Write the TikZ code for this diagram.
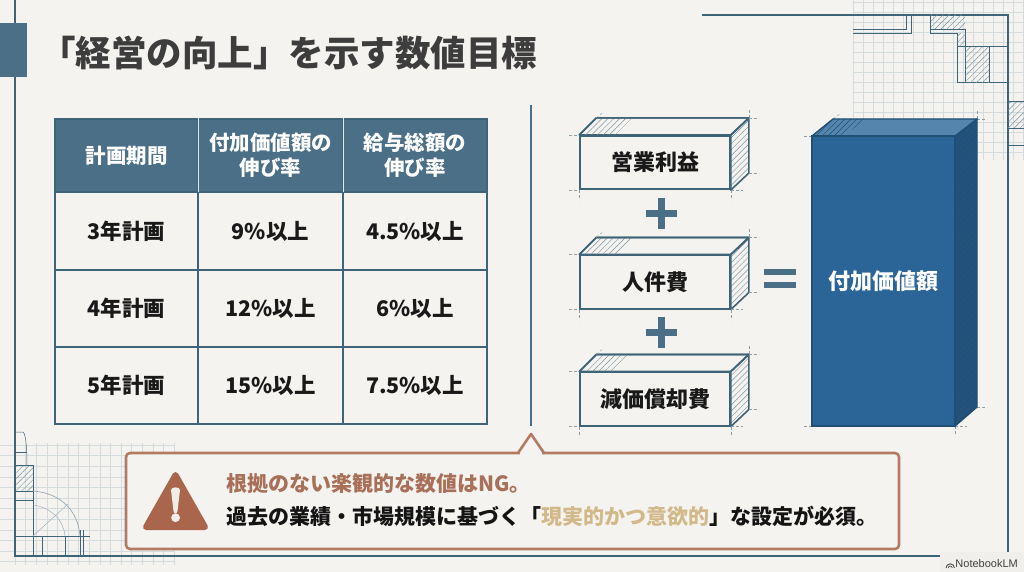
\documentclass[tikz,border=0pt]{standalone}
\usepackage{fontspec}
\setmainfont{Noto Sans CJK JP}
\newfontfamily\latinmark{Liberation Sans}
\usetikzlibrary{patterns.meta,calc}
\definecolor{paper}{HTML}{F4F3EF}
\definecolor{ink}{HTML}{4A6F87}
\definecolor{edge}{HTML}{3F6377}
\definecolor{gridc}{HTML}{D3DBDD}
\definecolor{titlec}{HTML}{3D3D3D}
\definecolor{blueF}{HTML}{2B6496}
\definecolor{blueT}{HTML}{5585AD}
\definecolor{blueS}{HTML}{23537C}
\definecolor{blueE}{HTML}{1F4F73}
\definecolor{rust}{HTML}{A9664C}
\definecolor{rustl}{HTML}{A87058}
\definecolor{gold}{HTML}{D2B98A}
\definecolor{tick}{HTML}{8E9EA6}
\newcommand{\fs}[1]{\fontsize{#1}{25}\selectfont}
\tikzset{
  gridline/.style={gridc,line width=.6pt},
  frameline/.style={edge,line width=1.2pt},
  plan/.style={edge,line width=1pt},
  hatchfill/.style={pattern={Lines[angle=45,distance=4.2pt,line width=.45pt]},pattern color=#1},
  headcell/.style={fill=ink,draw=edge,line width=1.4pt,minimum width=#1,text=white,minimum height=73pt,inner sep=0pt,align=center,font=\fs{20.5}\bfseries},
  bodycell/.style={fill=paper,draw=edge,line width=1.4pt,minimum width=#1,minimum height=77pt,inner sep=0pt,align=center,font=\fs{21.5}\bfseries,text=black!90},
  frontbox/.style={fill=paper,draw=edge,line width=1.6pt,minimum width=150pt,minimum height=53.5pt,inner sep=0pt,font=\fs{22}\bfseries,text=black!90},
  boxface/.style={fill=paper,draw=edge,line width=1.6pt,line join=round},
  dimtick/.style={tick,line width=.4pt,densely dashed},
  opsign/.style={fill=ink,draw=none,inner sep=0pt},
}
% dimension marks around a box front named #1
\newcommand{\dimmarks}[1]{%
  \draw[dimtick] ($(#1.north west)+(-10,0)$) -- (#1.north west);
  \draw[dimtick] ($(#1.south west)+(-10,0)$) -- (#1.south west);
  \draw[dimtick] (#1.south west) -- ++(0,10);
  \draw[dimtick] ($(#1.south east)+(0,-0)$) -- ++(0,10);
  \draw[dimtick] (#1.south east) -- ++(12,0);
  \draw[dimtick] ($(#1.north east)+(18,-17)$) -- ++(10,0);
  \draw[dimtick] ($(#1.north east)+(18,-17)$) -- ++(0,-8);
  \draw[dimtick] ($(#1.south east)+(18,-17)$) -- ++(10,0);
  \draw[dimtick] ($(#1.north west)+(17,-17)$) -- ++(6,-5);
}
\newcommand{\solid}[1]{%
  \draw[boxface,hatchfill=edge!70] (#1.north east) -- ++(18,-17) -- ($(#1.south east)+(18,-17)$) -- (#1.south east) -- cycle;
  \draw[boxface] (#1.north west) -- ++(17,-17) -- ($(#1.north east)+(18,-17)$) -- (#1.north east) -- cycle;
  \fill[hatchfill=edge!70] (#1.north west) -- ++(17,-17) -- ++(36,0) -- ++(-17,17) -- cycle;
  \draw[edge,line width=1.6pt,line join=round] (#1.north west) -- ++(17,-17) -- ($(#1.north east)+(18,-17)$) -- (#1.north east);
  \dimmarks{#1}
}
\begin{document}
\begin{tikzpicture}[x=1pt,y=-1pt]
\useasboundingbox (0,0) rectangle (1024,572);
\fill[paper] (0,0) rectangle (1024,572);
% --- grids
\foreach \x in {853,863,...,1023} \draw[gridline] (\x,0) -- (\x,160);
\foreach \y in {2,12,...,160} \draw[gridline] (853,\y) -- (1024,\y);
\foreach \x in {15,25.6,...,175} \draw[gridline] (\x,443) -- (\x,565);
\foreach \y in {445,455.6,...,572} \draw[gridline] (0,\y) -- (175,\y);
% --- frame
\draw[frameline] (15,0) -- (15,556) -- (945,556);
\draw[frameline,line width=1.6pt] (702,15) -- (1008,15) -- (1008,556);
% --- top-right plan
\draw[plan] (906,15) -- (906,30) -- (853,30);
\draw[plan] (911,15) -- (911,34) -- (853,34);
\fill[hatchfill=edge!70] (930,15) rectangle (965,30);
\draw[plan] (930,15) -- (930,34) -- (957,34) -- (957,83) -- (1008,83);
\draw[plan] (930,30) -- (965,30) -- (965,83);
\fill[hatchfill=edge!70] (957,34) rectangle (965,47);
\fill[hatchfill=edge!70] (965,47) rectangle (989,83);
\draw[plan] (957,47) -- (1008,47);
\draw[plan] (989,47) -- (989,83);
\fill[hatchfill=edge!70] (1008,102) rectangle (1024,129);
\draw[plan] (1008,102) -- (1024,102);
\draw[plan] (1008,129) -- (1024,129);
\draw[plan] (1008,146) -- (1024,146);
% --- bottom-left plan
\fill[hatchfill=edge!70] (16,465) rectangle (33,491);
\draw[plan] (15,465) -- (33,465) -- (33,556);
\draw[plan] (15,491) -- (33,491);
\draw[plan] (15,500) -- (33,500);
\draw[plan] (15,536) -- (90,536);
\draw[plan] (42,536) -- (42,556);
\draw[plan] (65,536) -- (65,556);
\draw[plan] (80,530) -- (80,556);
\draw[plan] (83,530) -- (83,556);
\draw[plan,line width=.5pt] (15,432) -- (23,432) .. controls (26,434) and (27,450) .. (27,465);
\draw[plan,line width=.5pt] (15,452) -- (27,452);
\draw[edge!60,line width=.6pt] (33,491) .. controls (60,493) and (78,510) .. (80,536);
\draw[edge!50,line width=.5pt] (33,536) -- (68,504);
\draw[edge!50,line width=.5pt] (33,505) .. controls (50,507) and (64,520) .. (65,536);
% --- tab and title
\fill[ink] (0,23) rectangle (27,77);
\node[anchor=west,inner sep=0pt,text=titlec,font=\fs{35.5}\bfseries] (title) at (40,53) {「経営の向上」を示す数値目標};
% --- table
\node[headcell=143pt] (h1) at (126.5,155.5) {計画期間};
\node[headcell=145pt] (h2) at (270.5,155.5) {付加価値額の\\伸び率};
\node[headcell=144pt] (h3) at (415,155.5) {給与総額の\\伸び率};
\draw[white!85!ink,line width=1.4pt] (h1.north east) -- (h1.south east);
\draw[white!85!ink,line width=1.4pt] (h2.north east) -- (h2.south east);
\node[bodycell=143pt] (a1) at (126.5,231) {3年計画};
\node[bodycell=145pt] (a2) at (270.5,231) {9\%以上};
\node[bodycell=144pt] (a3) at (415,231) {4.5\%以上};
\node[bodycell=143pt] (b1) at (126.5,308.5) {4年計画};
\node[bodycell=145pt] (b2) at (270.5,308.5) {12\%以上};
\node[bodycell=144pt] (b3) at (415,308.5) {6\%以上};
\node[bodycell=143pt] (c1) at (126.5,385.5) {5年計画};
\node[bodycell=145pt] (c2) at (270.5,385.5) {15\%以上};
\node[bodycell=144pt] (c3) at (415,385.5) {7.5\%以上};
% --- separator
\coordinate (sepT) at (531,105);
\coordinate (sepB) at (531,426);
\draw[ink,line width=2.4pt] (sepT) -- (sepB);
% --- blocks
\node[frontbox] (b-op) at (655,162.5) {営業利益};
\node[frontbox] (b-hr) at (655,282) {人件費};
\node[frontbox] (b-dp) at (655,399) {減価償却費};
\solid{b-op}\solid{b-hr}\solid{b-dp}
% --- operators
\node[opsign,minimum width=31pt,minimum height=7pt] (p1a) at (661,213.5) {};
\node[opsign,minimum width=7pt,minimum height=31pt] (p1b) at (661,213.5) {};
\node[opsign,minimum width=31pt,minimum height=7pt] (p2a) at (661,332) {};
\node[opsign,minimum width=7pt,minimum height=31pt] (p2b) at (661,332) {};
\node[opsign,minimum width=32pt,minimum height=6pt] (e1) at (780,272) {};
\node[opsign,minimum width=32pt,minimum height=6pt] (e2) at (780,285) {};
% --- big block
\draw[dimtick] (812,136) -- ++(-10,0);
\draw[dimtick] (812,426) -- ++(-10,0);
\draw[dimtick] (955,426) -- ++(0,10);
\draw[dimtick] (955,426) -- ++(12,0);
\draw[dimtick] (977,119) -- ++(10,0);
\draw[dimtick] (977,119) -- ++(0,-8);
\draw[dimtick] (977,407) -- ++(10,0);
\draw[dimtick] (833,119) -- ++(8,-6);
\path[fill=blueS,draw=blueE,line width=1.4pt,line join=round] (955,136) -- (977,119) -- (977,407) -- (955,426) -- cycle;
\fill[hatchfill=blueE] (955,136) -- (977,119) -- (977,407) -- (955,426) -- cycle;
\path[fill=blueT,draw=blueE,line width=1.4pt,line join=round] (812,136) -- (833,119) -- (977,119) -- (955,136) -- cycle;
\fill[hatchfill=blueE] (812,136) -- (833,119) -- (865,119) -- (844,136) -- cycle;
\node[fill=blueF,draw=blueE,line width=1.2pt,minimum width=143pt,minimum height=290pt,inner sep=0pt,text=white,font=\fs{22}\bfseries] (b-va) at (883.5,281) {付加価値額};
% --- callout
\coordinate (apex) at (531,434);
\path[fill=paper] (126,453) rectangle (899,549);
\draw[draw=rust!85!paper,line width=2.6pt,line join=round,rounded corners=4pt]
  (126,453) -- (899,453) -- (899,549) -- (126,549) -- cycle;
\fill[paper] (520,450) rectangle (542,456);
\draw[draw=rust!85!paper,line width=2.6pt,line join=round]
  (518,453) -- (apex) -- (544,453);
\filldraw[fill=rust,draw=rust,line width=6pt,line join=round] (175.5,475) -- (146,527) -- (205,527) -- cycle;
\fill[paper!95!rust] (171,490) .. controls (171,486.5) and (180,486.5) .. (180,490) -- (177.5,511) .. controls (177,514) and (174,514) .. (173.5,511) -- cycle;
\fill[paper!95!rust] (175.6,517.7) circle (4.4);
\node[anchor=west,inner sep=0pt,text=rustl,font=\fs{21}\bfseries] (warn1) at (226,484) {根拠のない楽観的な数値はNG。};
\node[anchor=west,inner sep=0pt,text=black!92,font=\fs{21}\bfseries] (warn2) at (226,516) {過去の業績・市場規模に基づく「\textcolor{gold}{現実的かつ意欲的}」な設定が必須。};
% --- badge
\fill[paper!97!gray] (940,552) rectangle (1024,572);
\node[inner sep=0pt,anchor=east,text=black!75,font=\latinmark\fs{11}] (nb) at (1018,564) {NotebookLM};
\draw[black!70,line width=.9pt] (946,568) arc[start angle=180,end angle=0,radius=4.2pt];
\draw[black!70,line width=.7pt] (948.2,568) arc[start angle=180,end angle=0,radius=2pt];
\end{tikzpicture}
\end{document}
